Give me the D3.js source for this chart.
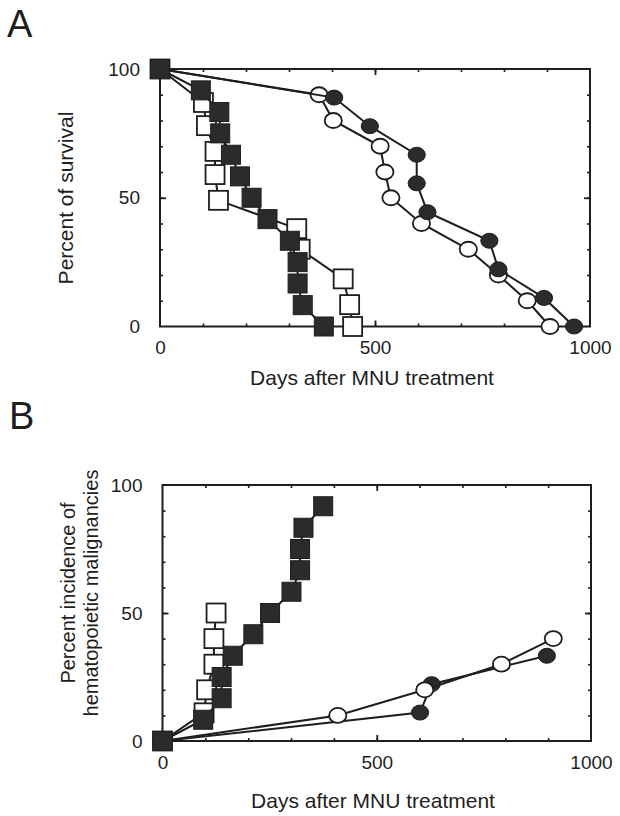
<!DOCTYPE html>
<html>
<head>
<meta charset="utf-8">
<script src="https://cdn.jsdelivr.net/npm/d3@7"></script>
<style>
  body { margin: 0; background: #fff; }
  text { font-family: "Liberation Sans", Arial, sans-serif; fill: #1e1e1e; }
</style>
</head>
<body>
<script>
// Panel A - percent survival
var aFilledSqDays = [0, 95, 138, 140, 165, 186, 213, 250, 302, 320, 320, 332, 381];
var aFilledSqPct  = [100, 91.7, 83.3, 75, 66.7, 58.3, 50, 41.7, 33.3, 25, 16.7, 8.3, 0];
var aOpenSqDays   = [0, 101, 108, 128, 128, 136, 318, 326, 426, 441, 448];
var aOpenSqPct    = [100, 87, 78, 68, 59, 49, 38, 30, 18.5, 8.5, 0];
var aOpenCircDays = [0, 370, 403, 512, 523, 537, 608, 717, 787, 854, 907];
var aOpenCircPct  = [100, 90, 80, 70, 60, 50, 40, 30, 20, 10, 0];
var aFilledCircDays = [0, 405, 488, 597, 597, 622, 766, 787, 893, 963];
var aFilledCircPct  = [100, 88.9, 77.8, 66.7, 55.6, 44.4, 33.3, 22.2, 11.1, 0];

// Panel B - percent incidence of hematopoietic malignancies
var bFilledSqDays = [0, 95, 138, 138, 164, 212, 251, 301, 321, 321, 329, 375];
var bFilledSqPct  = [0, 8.3, 16.7, 25, 33.3, 41.7, 50, 58.3, 66.7, 75, 83.3, 91.7];
var bOpenSqDays   = [0, 97, 103, 120, 120, 125];
var bOpenSqPct    = [0, 11, 20, 30, 40, 50];
var bOpenCircDays = [0, 409, 612, 791, 912];
var bOpenCircPct  = [0, 10, 20, 30, 40];
var bFilledCircDays = [0, 601, 628, 897];
var bFilledCircPct  = [0, 11.1, 22.2, 33.3];

var xTickLabels = [0, 500, 1000];
var yTickLabels = [0, 50, 100];
var xTitle = "Days after MNU treatment";

var ink = "#1e1e1e";
var dark = "#2b2b2b";

var svg = d3.select("body").append("svg")
  .attr("width", 620).attr("height", 816);

function zip(xs, ys) { return xs.map(function (d, i) { return [d, ys[i]]; }); }

function drawPanel(p) {
  var x = d3.scaleLinear().domain([0, 1000]).range([p.left, p.right]);
  var y = d3.scaleLinear().domain([0, 100]).range([p.bottom, p.top]);
  var g = svg.append("g");

  // frame
  g.append("rect")
    .attr("x", p.left).attr("y", p.top)
    .attr("width", p.right - p.left).attr("height", p.bottom - p.top)
    .attr("fill", "none").attr("stroke", ink).attr("stroke-width", 2);

  // minor ticks pointing in, on all four sides
  var minorX = d3.range(100, 1000, 100);
  var minorY = d3.range(10, 100, 10);
  var sides = [
    [d3.axisBottom(x), minorX, [500], "translate(0," + p.bottom + ")"],
    [d3.axisTop(x), minorX, [500], "translate(0," + p.top + ")"],
    [d3.axisLeft(y), minorY, [50], "translate(" + p.left + ",0)"],
    [d3.axisRight(y), minorY, [50], "translate(" + p.right + ",0)"]
  ];
  sides.forEach(function (a) {
    var ax = g.append("g").attr("transform", a[3])
      .call(a[0].tickValues(a[1]).tickSize(-3).tickFormat(""));
    ax.select(".domain").remove();
    ax.selectAll("line").attr("stroke", ink).attr("stroke-width", 1.6);
    var mj = g.append("g").attr("transform", a[3])
      .call(a[0].tickValues(a[2]).tickSize(-6).tickFormat(""));
    mj.select(".domain").remove();
    mj.selectAll("line").attr("stroke", ink).attr("stroke-width", 1.8);
  });

  // tick labels
  var xl = g.append("g").attr("transform", "translate(0," + p.bottom + ")")
    .call(d3.axisBottom(x).tickValues(xTickLabels).tickSize(0).tickPadding(p.xPad).tickFormat(d3.format("d")));
  xl.select(".domain").remove();
  xl.selectAll("text").style("font-size", "19px").attr("fill", ink);

  var yl = g.append("g").attr("transform", "translate(" + p.left + ",0)")
    .call(d3.axisLeft(y).tickValues(yTickLabels).tickSize(0).tickPadding(p.yPad).tickFormat(d3.format("d")));
  yl.select(".domain").remove();
  yl.selectAll("text").style("font-size", "19px").attr("fill", ink);

  // titles
  g.append("text")
    .attr("x", p.titleX).attr("y", p.titleY)
    .attr("text-anchor", "middle").style("font-size", "21px")
    .text(xTitle);

  p.yTitle.forEach(function (t) {
    g.append("text")
      .attr("transform", "translate(" + t.x + "," + p.yTitleMid + ") rotate(-90)")
      .attr("text-anchor", "middle").style("font-size", t.size + "px")
      .text(t.text);
  });

  g.append("text").attr("x", p.letterX).attr("y", p.letterY)
    .style("font-size", "38px").text(p.letter);

  var line = d3.line().x(function (d) { return x(d[0]); }).y(function (d) { return y(d[1]); });

  p.series.forEach(function (s) {
    var pts = zip(s.days, s.pct);
    g.append("path").datum(pts)
      .attr("d", line).attr("fill", "none")
      .attr("stroke", ink).attr("stroke-width", 2);

    var marks = g.append("g");
    if (s.shape === "square") {
      marks.selectAll("rect").data(pts).join("rect")
        .attr("x", function (d) { return x(d[0]) - 9.5; })
        .attr("y", function (d) { return y(d[1]) - 9.5; })
        .attr("width", 19).attr("height", 19)
        .attr("fill", s.filled ? dark : "#fff")
        .attr("stroke", ink).attr("stroke-width", s.filled ? 1 : 1.8);
    } else {
      marks.selectAll("ellipse").data(pts.filter(function (d) { return d[0] > 0; })).join("ellipse")
        .attr("cx", function (d) { return x(d[0]); })
        .attr("cy", function (d) { return y(d[1]); })
        .attr("rx", 8.6).attr("ry", 7.5)
        .attr("fill", s.filled ? dark : "#fff")
        .attr("stroke", ink).attr("stroke-width", s.filled ? 1 : 1.8);
    }
  });
}

drawPanel({
  left: 160, right: 590, top: 69, bottom: 326.5,
  xPad: 14, yPad: 20, titleX: 372, titleY: 385, yTitleMid: 198,
  yTitle: [{ text: "Percent of survival", x: 73, size: 21 }],
  letter: "A", letterX: 7, letterY: 37,
  series: [
    { days: aOpenCircDays, pct: aOpenCircPct, shape: "circle", filled: false },
    { days: aFilledCircDays, pct: aFilledCircPct, shape: "circle", filled: true },
    { days: aOpenSqDays, pct: aOpenSqPct, shape: "square", filled: false },
    { days: aFilledSqDays, pct: aFilledSqPct, shape: "square", filled: true }
  ]
});

drawPanel({
  left: 162.5, right: 591, top: 485, bottom: 741,
  xPad: 15, yPad: 20, titleX: 373, titleY: 808, yTitleMid: 593,
  yTitle: [{ text: "Percent incidence of", x: 75, size: 20 },
           { text: "hematopoietic malignancies", x: 98, size: 20 }],
  letter: "B", letterX: 9, letterY: 429,
  series: [
    { days: bFilledCircDays, pct: bFilledCircPct, shape: "circle", filled: true },
    { days: bOpenCircDays, pct: bOpenCircPct, shape: "circle", filled: false },
    { days: bOpenSqDays, pct: bOpenSqPct, shape: "square", filled: false },
    { days: bFilledSqDays, pct: bFilledSqPct, shape: "square", filled: true }
  ]
});
</script>
</body>
</html>
